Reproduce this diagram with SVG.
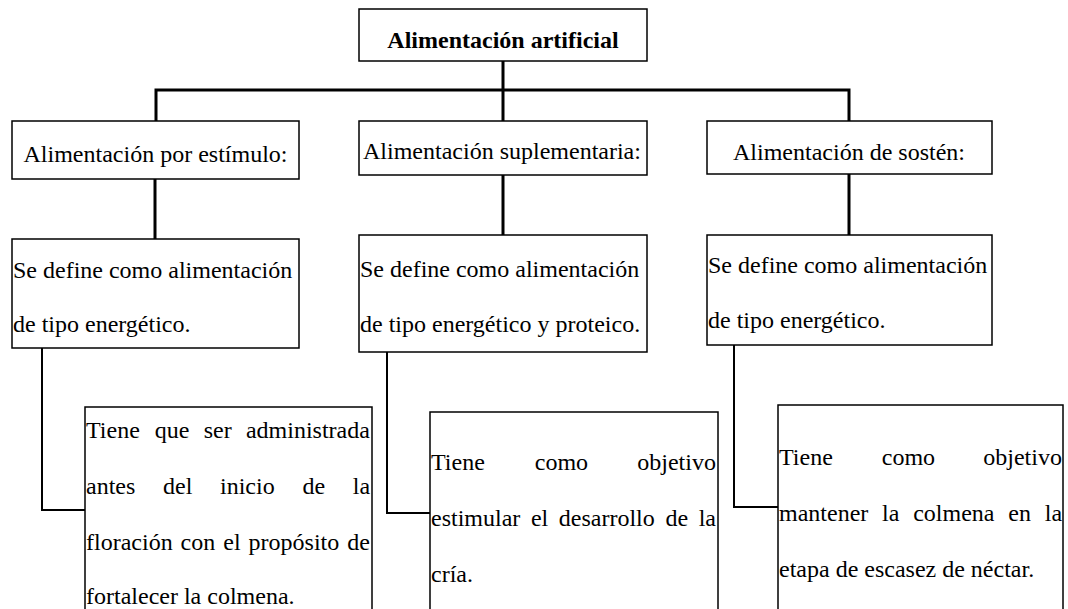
<svg xmlns="http://www.w3.org/2000/svg" width="1068" height="609" viewBox="0 0 1068 609">
<style>
.box{fill:#fff;stroke:#000;stroke-width:1.5}
.t{font-family:"Liberation Serif","Times New Roman",serif;font-size:24px;fill:#000}
.b{font-weight:bold}
.c{text-anchor:middle}
.tree{fill:none;stroke:#000;stroke-width:3}
.elbow{fill:none;stroke:#000;stroke-width:2}
</style>
<rect width="1068" height="609" fill="#fff"/>
<g id="connectors">
<path class="tree" d="M503 61V121M156 121V90H849V121"/>
<path class="tree" d="M155 179V239M503 175V235M849 174V235"/>
<path class="elbow" d="M42 348V510H85"/>
<path class="elbow" d="M387 352V513H430"/>
<path class="elbow" d="M734 345V507H778"/>
</g>
<g id="root">
<rect class="box" x="359" y="9" width="288" height="52"/>
<text class="t b c" x="503" y="48">Alimentación artificial</text>
</g>
<g id="estimulo">
<rect class="box" x="12" y="121" width="287" height="58"/>
<text class="t c" x="155.5" y="162">Alimentación por estímulo:</text>
</g>
<g id="suplementaria">
<rect class="box" x="359" y="121" width="288" height="54"/>
<text class="t c" x="502" y="159">Alimentación suplementaria:</text>
</g>
<g id="sosten">
<rect class="box" x="707" y="121" width="285" height="53"/>
<text class="t c" x="849" y="160">Alimentación de sostén:</text>
</g>
<g id="def1">
<rect class="box" x="12" y="239" width="287" height="109"/>
<text class="t" x="13" y="278">Se define como alimentación</text>
<text class="t" x="13" y="332">de tipo energético.</text>
</g>
<g id="def2">
<rect class="box" x="359" y="235" width="288" height="117"/>
<text class="t" x="360" y="277">Se define como alimentación</text>
<text class="t" x="360" y="332">de tipo energético y proteico.</text>
</g>
<g id="def3">
<rect class="box" x="707" y="235" width="285" height="110"/>
<text class="t" x="708" y="273">Se define como alimentación</text>
<text class="t" x="708" y="328">de tipo energético.</text>
</g>
<g id="obj1">
<rect class="box" x="85" y="407" width="287" height="230"/>
<text class="t" y="438"><tspan x="86">Tiene</tspan><tspan x="154.8">que</tspan><tspan x="203.7">ser</tspan><tspan x="245.9">administrada</tspan></text>
<text class="t" y="494"><tspan x="86">antes</tspan><tspan x="163">del</tspan><tspan x="220">inicio</tspan><tspan x="302.4">de</tspan><tspan x="352.8">la</tspan></text>
<text class="t" y="550"><tspan x="86">floración</tspan><tspan x="180.6">con</tspan><tspan x="223.3">el</tspan><tspan x="248.6">propósito</tspan><tspan x="347.3">de</tspan></text>
<text class="t" x="86" y="604">fortalecer la colmena.</text>
</g>
<g id="obj2">
<rect class="box" x="430" y="412" width="288" height="230"/>
<text class="t" y="470"><tspan x="431">Tiene</tspan><tspan x="534.8">como</tspan><tspan x="637.3">objetivo</tspan></text>
<text class="t" y="526"><tspan x="431">estimular</tspan><tspan x="530.9">el</tspan><tspan x="558.8">desarrollo</tspan><tspan x="665.4">de</tspan><tspan x="698.7">la</tspan></text>
<text class="t" x="431" y="582">cría.</text>
</g>
<g id="obj3">
<rect class="box" x="778" y="405" width="285" height="230"/>
<text class="t" y="465"><tspan x="779">Tiene</tspan><tspan x="881.8">como</tspan><tspan x="983.3">objetivo</tspan></text>
<text class="t" y="521"><tspan x="779">mantener</tspan><tspan x="882.1">la</tspan><tspan x="913.2">colmena</tspan><tspan x="1008.3">en</tspan><tspan x="1044.8">la</tspan></text>
<text class="t" x="779" y="577">etapa de escasez de néctar.</text>
</g>
</svg>
